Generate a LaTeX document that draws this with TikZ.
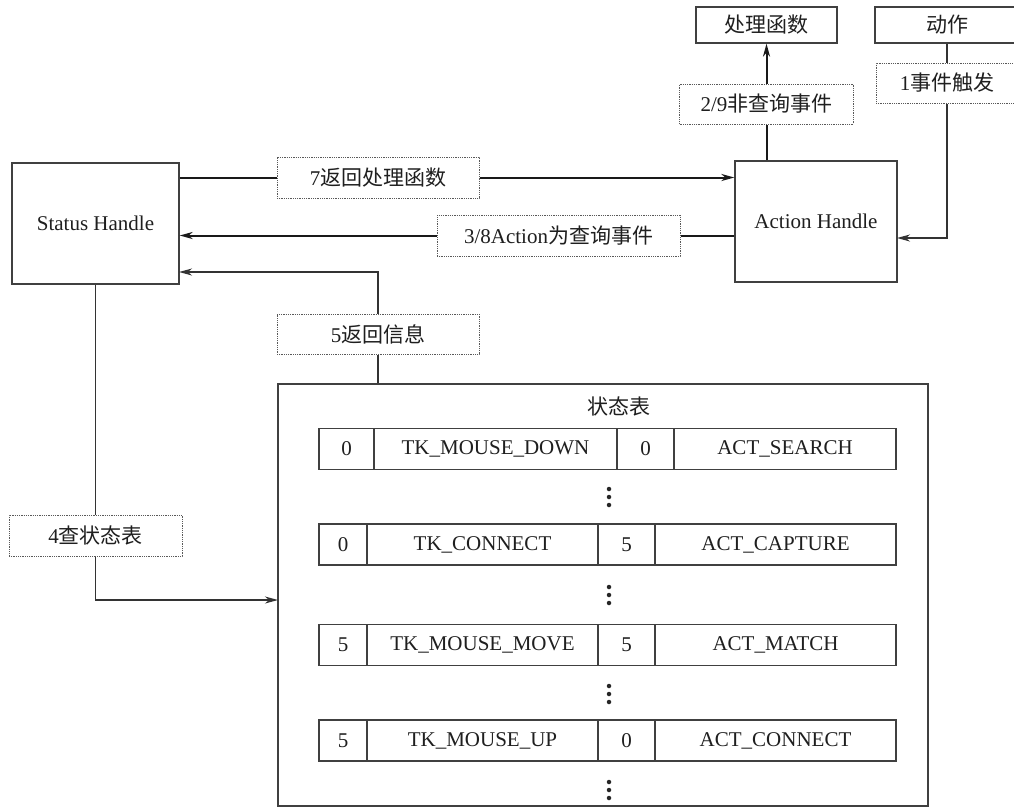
\documentclass[tikz,border=0pt]{standalone}
\usepackage{fontspec}
\setmainfont{Liberation Serif}
\newfontfamily\cjk{Noto Sans CJK SC}
\usetikzlibrary{arrows.meta,calc}
\begin{document}
\begin{tikzpicture}[x=1pt,y=-1pt,
  every node/.style={font=\fontsize{21}{25}\selectfont, text=black!88},
  mainbox/.style={draw=black!75, line width=1.3pt, inner sep=0pt, fill=white},
  lblbox/.style={draw=black!65, line width=1pt, dash pattern=on 1pt off 0.8pt, inner sep=0pt, fill=white},
  cell/.style={draw=black!75, line width=1.3pt, inner sep=0pt, minimum height=41pt},
  thickcon/.style={draw=black!90, line width=2pt},
  thincon/.style={draw=black!80, line width=1.3pt},
  tip/.style={-{Stealth[length=13pt,width=7pt,inset=4pt]}},
  dot/.style={circle, fill=black!85, inner sep=0pt, minimum size=4.5pt}
]
\useasboundingbox (0,0) rectangle (1014,809);

% main boxes
\node[mainbox, minimum width=167pt, minimum height=121pt] (status) at (95.5,223.5) {Status Handle};
\node[mainbox, minimum width=162pt, minimum height=121pt] (action) at (816,221.5) {Action Handle};
\node[mainbox, minimum width=141pt, minimum height=36pt] (proc) at (766.5,25) {\cjk 处理函数};
\node[mainbox, minimum width=144pt, minimum height=36pt] (act) at (947,25) {\cjk 动作};
\node[mainbox, minimum width=650pt, minimum height=422pt] (table) at (603,595) {};
\node (ttitle) at (619,406) {\cjk 状态表};

% label boxes
\node[lblbox, minimum width=202pt, minimum height=41pt] (lbl7) at (378,177.5) {7{\cjk 返回处理函数}};
\node[lblbox, minimum width=243pt, minimum height=41pt] (lbl38) at (558.5,235.5) {3/8Action{\cjk 为查询事件}};
\node[lblbox, minimum width=202pt, minimum height=40pt] (lbl5) at (378,334) {5{\cjk 返回信息}};
\node[lblbox, minimum width=173pt, minimum height=41pt] (lbl4) at (95.5,535.5) {4{\cjk 查状态表}};
\node[lblbox, minimum width=174pt, minimum height=40pt] (lbl29) at (766.5,104) {2/9{\cjk 非查询事件}};
\node[lblbox, minimum width=142pt, minimum height=40pt] (lbl1) at (947,83) {1{\cjk 事件触发}};

% coordinates for connector ends
\coordinate (c5) at (179,272);
\coordinate (c4) at (278,600);
\coordinate (c1) at (897,238);

% connectors
\draw[thickcon] (status.east |- lbl7.west) -- (lbl7.west);
\draw[thickcon, tip] (lbl7.east) -- (action.west |- lbl7.east);
\draw[thickcon] (action.west |- lbl38.east) -- (lbl38.east);
\draw[thickcon, tip] (lbl38.west) -- (status.east |- lbl38.west);
\draw[thickcon] (action.north -| lbl29.south) -- (lbl29.south);
\draw[thickcon, tip] (lbl29.north) -- (proc.south);
\draw[thincon] (act.south) -- (lbl1.north);
\draw[thincon, tip] (lbl1.south) |- (c1);
\draw[thincon] (table.north -| lbl5.south) -- (lbl5.south);
\draw[thincon, tip] (lbl5.north) |- (c5);
\draw[thincon] (status.south) -- (lbl4.north);
\draw[thincon, tip] (lbl4.south) |- (c4);

% row 1
\node[cell, minimum width=55pt] (r1a) at (346.5,449) {0};
\node[cell, minimum width=243pt] (r1b) at (495.5,449) {TK\_MOUSE\_DOWN};
\node[cell, minimum width=57pt] (r1c) at (645.5,449) {0};
\node[cell, minimum width=222pt] (r1d) at (785,449) {ACT\_SEARCH};
% row 2
\node[cell, minimum width=48pt] (r2a) at (343,544.5) {0};
\node[cell, minimum width=231pt] (r2b) at (482.5,544.5) {TK\_CONNECT};
\node[cell, minimum width=57pt] (r2c) at (626.5,544.5) {5};
\node[cell, minimum width=241pt] (r2d) at (775.5,544.5) {ACT\_CAPTURE};
% row 3
\node[cell, minimum width=48pt] (r3a) at (343,645) {5};
\node[cell, minimum width=231pt] (r3b) at (482.5,645) {TK\_MOUSE\_MOVE};
\node[cell, minimum width=57pt] (r3c) at (626.5,645) {5};
\node[cell, minimum width=241pt] (r3d) at (775.5,645) {ACT\_MATCH};
% row 4
\node[cell, minimum width=48pt] (r4a) at (343,740.5) {5};
\node[cell, minimum width=231pt] (r4b) at (482.5,740.5) {TK\_MOUSE\_UP};
\node[cell, minimum width=57pt] (r4c) at (626.5,740.5) {0};
\node[cell, minimum width=241pt] (r4d) at (775.5,740.5) {ACT\_CONNECT};

% vertical ellipses
\foreach \y [count=\i] in {489,587,686,782}{
  \node[dot] (d\i a) at (609,\y) {};
  \node[dot] (d\i b) at (609,\y+8) {};
  \node[dot] (d\i c) at (609,\y+16) {};
}
\end{tikzpicture}
\end{document}
